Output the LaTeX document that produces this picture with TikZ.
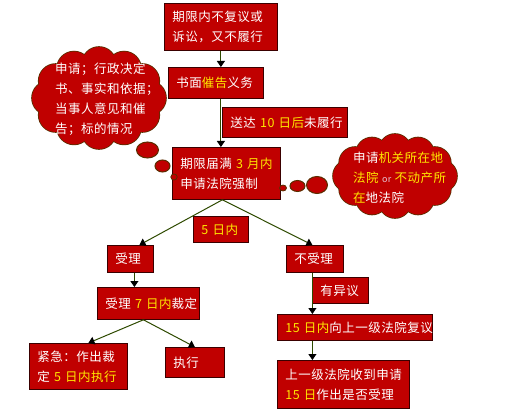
\documentclass[tikz,border=0pt]{standalone}
\usepackage{fontspec}
\newfontfamily\cjk[LetterSpace=4]{Noto Sans CJK SC}
\usepackage{xcolor}
\definecolor{boxred}{HTML}{C00000}
\definecolor{boxedge}{HTML}{3A0000}
\definecolor{puffedge}{HTML}{5A2E00}
\definecolor{linkgreen}{HTML}{2E4A00}
\definecolor{hilite}{HTML}{FFE800}
\definecolor{orpink}{HTML}{E6C3D2}
\usetikzlibrary{calc,arrows.meta}
\newcommand{\hl}[1]{\textcolor{hilite}{#1}}
\tikzset{
	rbox/.style={draw=boxedge, line width=0.8pt, fill=boxred, text=white, anchor=north west,
		inner xsep=8pt, inner ysep=2pt, align=left},
	link/.style={draw=linkgreen, line width=1pt},
	puffline/.style={draw=puffedge, fill=boxred, line width=1.6pt},
	puffbody/.style={fill=boxred},
	pufftext/.style={text=white, anchor=north west, inner sep=0pt, align=left}
}

\begin{document}
\begin{tikzpicture}[x=1pt, y=-1pt, >={Triangle[length=6pt,width=8pt,color=black]},
	font=\cjk\fontsize{12.5}{20}\selectfont]

		\useasboundingbox (0,0) rectangle (514,417);

		% ---------- thought clouds (circles round an ellipse; outline pass,
		% then a fill pass that hides the inner strokes)
		\def\lcx{99}\def\lcy{98}
		\def\rcx{395}\def\rcy{176}
		\foreach \t in {0,30,...,330} {
			\draw[puffline] ({\lcx+50*cos(\t)},{\lcy+34*sin(\t)}) circle (17pt);
			\draw[puffline] ({\rcx+46*cos(\t)},{\rcy+26*sin(\t)}) circle (16pt);
		}
		\foreach \t in {0,30,...,330} {
			\fill[puffbody] ({\lcx+50*cos(\t)},{\lcy+34*sin(\t)}) circle (17pt);
			\fill[puffbody] ({\rcx+46*cos(\t)},{\rcy+26*sin(\t)}) circle (16pt);
		}
		\fill[puffbody] (\lcx,\lcy) ellipse [x radius=50pt, y radius=34pt];
		\fill[puffbody] (\rcx,\rcy) ellipse [x radius=46pt, y radius=26pt];

		\node[pufftext] (leftnote) at (55,62.5)
			{申请；行政决定\\书、事实和依据；\\当事人意见和催\\告；标的情况};
		\node[pufftext] (rightnote) at (353,152)
			{申请\hl{机关所在地}\\\hl{法院}~{\fontsize{9}{9}\selectfont\color{orpink}or}~\hl{不动产所}\\\hl{在}地法院};

		% ---------- main chain
		\node[rbox, text width=97pt, minimum height=47pt] (top) at (164,3)
			{期限内不复议或\\诉讼，又不履行};
		\node[rbox, text width=79pt, minimum height=31pt] (notice) at (168,67)
			{书面\hl{催告}义务};
		\node[rbox, text width=109pt, minimum height=30pt] (served) at (222,107)
			{送达~\hl{10~日后}未履行};
		\node[rbox, text width=92pt, minimum height=52pt] (apply) at (172,147)
			{期限届满~\hl{3~月内}\\申请法院强制};
		\node[rbox, text width=39pt, minimum height=26pt] (within) at (193,216)
			{\hl{5~日内}};

		% ---------- left branch
		\node[rbox, text width=30pt, minimum height=27pt] (accept) at (107,245) {受理};
		\node[rbox, text width=86pt, minimum height=32pt] (ruling) at (97,287)
			{受理~\hl{7~日内}裁定};
		\node[rbox, text width=82pt, minimum height=46pt] (urgent) at (29,343)
			{紧急：作出裁\\定~\hl{5~日内执行}};
		\node[rbox, text width=43pt, minimum height=30pt] (execute) at (165,347) {执行};

		% ---------- right branch
		\node[rbox, text width=41pt, minimum height=27pt] (reject) at (286,245) {不受理};
		\node[rbox, text width=40pt, minimum height=26pt] (objection) at (312,277) {有异议};
		\node[rbox, text width=139pt, minimum height=26pt] (review) at (277,314)
			{\hl{15~日内}向上一级法院复议};
		\node[rbox, text width=116pt, minimum height=48pt] (decide) at (277,360)
			{上一级法院收到申请\\\hl{15~日}作出是否受理};

		% ---------- connectors
		\draw[link, ->] (top.south) -- (top.south |- notice.north);
		\draw[link, ->] (top.south |- notice.south) -- (top.south |- apply.north);

		\coordinate (fork) at ($(apply.south)+(-4,0)$);
		\draw[link, ->] (fork) -- ($(accept.north)+(9,0)$);
		\draw[link, ->] (fork) -- ($(reject.north)+(-2.5,0)$);

		\coordinate (a1) at ($(accept.south)+(4,0)$);
		\draw[link, ->] (a1) -- (a1 |- ruling.north);
		\coordinate (fork2) at ($(ruling.south)+(-5,0)$);
		\draw[link, ->] (fork2) -- ($(urgent.north)+(10,0)$);
		\draw[link, ->] (fork2) -- (execute.north);

		\coordinate (r1) at ($(reject.south)+(-2.5,0)$);
		\draw[link, ->] (r1) -- (r1 |- review.north);
		\draw[link, ->] (r1 |- review.south) -- (r1 |- decide.north);

		% ---------- cloud tails
		\draw[puffedge, fill=boxred, line width=1pt] (147.5,150) ellipse [x radius=11pt, y radius=8pt];
		\draw[puffedge, fill=boxred, line width=1pt] (162.5,166) ellipse [x radius=7.5pt, y radius=6pt];
		\draw[puffedge, fill=boxred, line width=0.8pt] (174,177) ellipse [x radius=3.2pt, y radius=3pt];
		\draw[puffedge, fill=boxred, line width=1pt] (317,185) ellipse [x radius=10.5pt, y radius=8.5pt];
		\draw[puffedge, fill=boxred, line width=1pt] (297.5,186) ellipse [x radius=7.5pt, y radius=5.5pt];
		\draw[puffedge, fill=boxred, line width=0.8pt] (283,188) ellipse [x radius=3.5pt, y radius=3pt];
	\end{tikzpicture}
\end{document}
